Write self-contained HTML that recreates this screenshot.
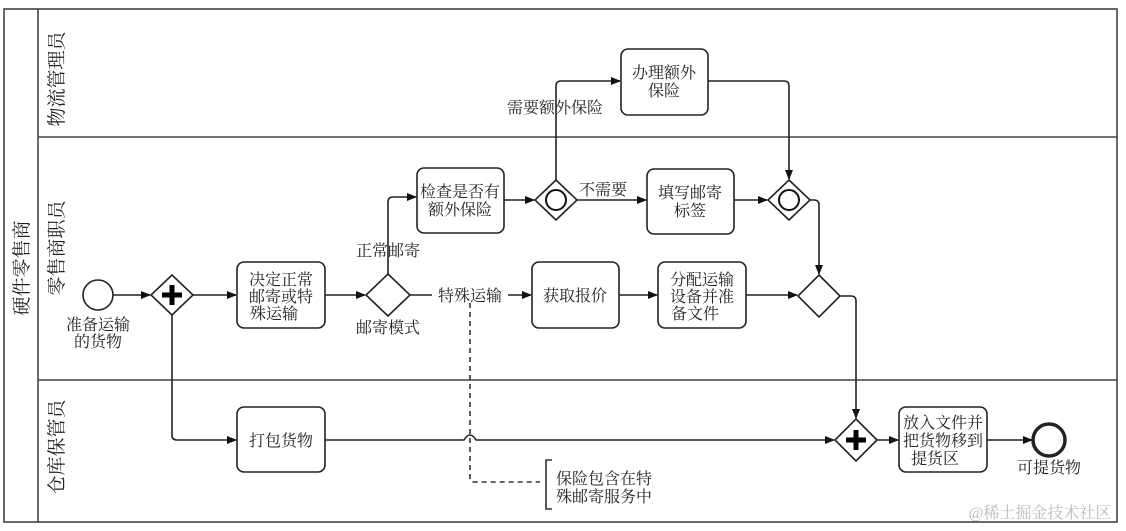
<!DOCTYPE html>
<html><head><meta charset="utf-8"><style>
html,body{margin:0;padding:0;background:#fff}
svg{display:block}
text{font-family:"Liberation Serif","Noto Serif CJK SC",serif;fill:#222}
</style></head><body>
<svg width="1126" height="531" viewBox="0 0 1126 531" xmlns="http://www.w3.org/2000/svg">
<defs>
<marker id="a" markerWidth="10" markerHeight="8" refX="9" refY="4" orient="auto" markerUnits="userSpaceOnUse">
<path d="M0,0 L10,4 L0,8 z" fill="#111"/></marker>
</defs>
<g stroke="#444" stroke-width="1.6" fill="none">
<rect x="4" y="9" width="1113" height="513"/>
<line x1="38" y1="9" x2="38" y2="522"/>
<line x1="38" y1="137" x2="1117" y2="137"/>
<line x1="38" y1="380" x2="1117" y2="380"/>
</g>
<g font-size="19">
<text transform="translate(28,268) rotate(-90)" text-anchor="middle">硬件零售商</text>
<text transform="translate(63,79) rotate(-90)" text-anchor="middle">物流管理员</text>
<text transform="translate(63,248) rotate(-90)" text-anchor="middle">零售商职员</text>
<text transform="translate(63,447) rotate(-90)" text-anchor="middle">仓库保管员</text>
</g>
<g stroke="#222" stroke-width="1.6" fill="#fff">
<rect x="237" y="262" width="88" height="66" rx="7"/>
<rect x="417" y="168" width="87" height="65" rx="7"/>
<rect x="621" y="49" width="87" height="66" rx="7"/>
<rect x="647" y="169" width="87" height="65" rx="7"/>
<rect x="532" y="262" width="87" height="66" rx="7"/>
<rect x="658" y="262" width="88" height="66" rx="7"/>
<rect x="237" y="407" width="88" height="65" rx="7"/>
<rect x="899" y="407" width="88" height="65" rx="7"/>
<circle cx="98" cy="295" r="15"/>
<circle cx="1049" cy="440" r="16" stroke-width="3.5"/>
<polygon points="172,275 193,295 172,315 151,295"/>
<polygon points="388,274 410,295 388,316 366,295"/>
<polygon points="556,180 577,200 556,220 535,200"/>
<polygon points="789,180 810,200 789,220 768,200"/>
<polygon points="819,275 840,296 819,317 798,296"/>
<polygon points="856,419 877,440 856,461 835,440"/>
</g>
<g stroke="#111" stroke-width="2">
<circle cx="556" cy="200" r="10" fill="none"/>
<circle cx="789" cy="200" r="10" fill="none"/>
</g>
<g stroke="#000" stroke-width="5">
<path d="M172,285 v20 M162,295 h20"/>
<path d="M856,430 v20 M846,440 h20"/>
</g>
<g stroke="#222" stroke-width="1.6" fill="none" marker-end="url(#a)">
<path d="M113,295 H150"/>
<path d="M193,295 H236"/>
<path d="M325,295 H365"/>
<path d="M388,274 V202 q0,-5 5,-5 H416"/>
<path d="M504,200 H534"/>
<path d="M556,180 V86 q0,-5 5,-5 H620"/>
<path d="M708,81 H784 q5,0 5,5 V179"/>
<path d="M577,200 H646"/>
<path d="M734,200 H767"/>
<path d="M810,200 H814 q5,0 5,5 V274"/>
<path d="M410,295 H432 M508,295 H531"/>
<path d="M619,295 H657"/>
<path d="M746,295 H797"/>
<path d="M840,296 H851 q5,0 5,5 V418"/>
<path d="M172,315 V435 q0,5 5,5 H236"/>
<path d="M325,440 H464 q6,-10 12,0 H834"/>
<path d="M877,440 H898"/>
<path d="M987,440 H1032"/>
</g>
<path d="M470,303 V478 q0,4 4,4 H540" stroke="#333" stroke-width="1.6" fill="none" stroke-dasharray="5,4"/>
<path d="M552,460 H546 V509 H552" stroke="#333" stroke-width="1.6" fill="none"/>
<g font-size="16" text-anchor="middle">
<text x="281" y="285">决定正常</text><text x="281" y="302">邮寄或特</text><text x="274" y="319">殊运输</text>
<text x="460" y="197">检查是否有</text><text x="460" y="215">额外保险</text>
<text x="664" y="78">办理额外</text><text x="664" y="96">保险</text>
<text x="690" y="198">填写邮寄</text><text x="690" y="216">标签</text>
<text x="575" y="301">获取报价</text>
<text x="702" y="285">分配运输</text><text x="702" y="302">设备并准</text><text x="695" y="319">备文件</text>
<text x="281" y="446">打包货物</text>
<text x="943" y="428">放入文件并</text><text x="943" y="446">把货物移到</text><text x="935" y="464">提货区</text>
<text x="98" y="330">准备运输</text><text x="98" y="347">的货物</text>
<text x="388" y="256">正常邮寄</text>
<text x="388" y="333">邮寄模式</text>
<text x="470" y="301">特殊运输</text>
<text x="555" y="113">需要额外保险</text>
<text x="603" y="195">不需要</text>
<text x="1049" y="473">可提货物</text>
<text x="604" y="484">保险包含在特</text><text x="604" y="502">殊邮寄服务中</text>
</g>
<text x="1040" y="518" font-size="16" text-anchor="middle" style="fill:#bbb">@稀土掘金技术社区</text>
</svg>
</body></html>
